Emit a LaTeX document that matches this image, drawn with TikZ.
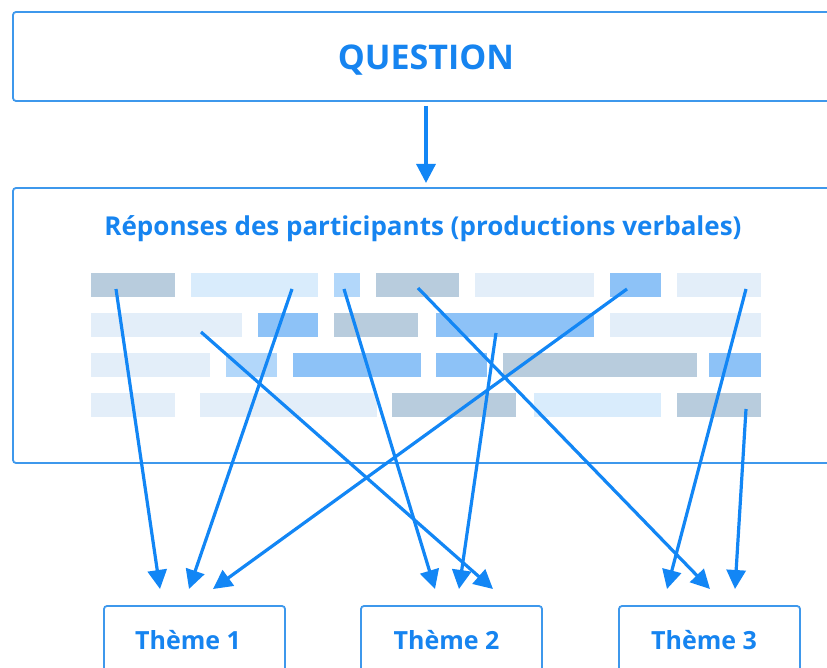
\documentclass[tikz,border=0pt]{standalone}
\usepackage{fontspec}
\setmainfont{Open Sans}
\usetikzlibrary{arrows.meta}
\definecolor{tblue}{RGB}{22,132,240}
\definecolor{lblue}{RGB}{18,134,245}
\definecolor{bblue}{RGB}{62,152,236}
\definecolor{cGray}{RGB}{184,204,221}
\definecolor{cVL}{RGB}{227,238,249}
\definecolor{cL}{RGB}{217,236,252}
\definecolor{cLM}{RGB}{178,215,250}
\definecolor{cM}{RGB}{141,194,247}
\tikzset{
  frame/.style={draw=bblue, line width=1.8pt, rounded corners=3pt, inner sep=0pt, fill=white},
  lbl/.style={text=tblue, font=\bfseries, inner sep=0pt},
  conn/.style={draw=lblue, line width=3.2pt, -{Triangle[length=19pt,width=19pt]}},
}
\newcommand{\mybar}[4]{\fill[#4] (#1,#3) rectangle (#2,#3+24);}
\begin{document}
\begin{tikzpicture}[x=1pt,y=-1pt]
\useasboundingbox (0,0) rectangle (827,668);
\fill[white] (0,0) rectangle (827,668);
\clip (0,0) rectangle (827,668);
% boxes
\node[frame, minimum width=826pt, minimum height=89pt] (q) at (426,56.5) {};
\node[lbl, font=\fontsize{34}{40}\selectfont\bfseries] (qt) at (426,60) {QUESTION};
\node[frame, minimum width=826pt, minimum height=275pt] (r) at (426,325.5) {};
\node[lbl, font=\fontsize{26}{30}\selectfont\bfseries] (rt) at (423,229) {Réponses des participants (productions verbales)};
\node[frame, minimum width=181pt, minimum height=70pt] (t1) at (194.5,641) {};
\node[frame, minimum width=181pt, minimum height=70pt] (t2) at (451.5,641) {};
\node[frame, minimum width=181pt, minimum height=70pt] (t3) at (709.5,641) {};
\node[lbl, font=\fontsize{25}{30}\selectfont\bfseries] (t1t) at (188,640) {Thème 1};
\node[lbl, font=\fontsize{25}{30}\selectfont\bfseries] (t2t) at (446.5,640) {Thème 2};
\node[lbl, font=\fontsize{25}{30}\selectfont\bfseries] (t3t) at (704,640) {Thème 3};
% bars
\mybar{91}{175}{273}{cGray}\mybar{191}{318}{273}{cL}\mybar{334}{360}{273}{cLM}\mybar{376}{459}{273}{cGray}
\mybar{475}{594}{273}{cVL}\mybar{610}{661}{273}{cM}\mybar{677}{761}{273}{cVL}
\mybar{91}{242}{313}{cVL}\mybar{258}{318}{313}{cM}\mybar{334}{418}{313}{cGray}\mybar{436}{594}{313}{cM}\mybar{610}{761}{313}{cVL}
\mybar{91}{210}{353}{cVL}\mybar{226}{277}{353}{cLM}\mybar{293}{421}{353}{cM}\mybar{436}{487}{353}{cM}\mybar{503}{697}{353}{cGray}\mybar{709}{761}{353}{cM}
\mybar{91}{175}{393}{cVL}\mybar{200}{377}{393}{cVL}\mybar{392}{516}{393}{cGray}\mybar{534}{661}{393}{cL}\mybar{677}{761}{393}{cGray}
% coordinates
\coordinate (qs) at (426,106);
\coordinate (qe) at (426,183);
\coordinate (s1) at (116,289);
\coordinate (s2) at (292,289);
\coordinate (s3) at (627,289);
\coordinate (s4) at (201,332);
\coordinate (s5) at (344,289);
\coordinate (s6) at (496,333);
\coordinate (s7) at (418,288);
\coordinate (s8) at (746,289);
\coordinate (s9) at (746,409);
\coordinate (e1) at (160,589);
\coordinate (e2) at (189,589);
\coordinate (e3) at (213,589);
\coordinate (e4) at (493,589);
\coordinate (e5) at (435,589);
\coordinate (e6) at (459,589);
\coordinate (e7) at (710,589);
\coordinate (e8) at (667,589);
\coordinate (e9) at (735,589);
% connectors
\draw[conn] (qs) -- (qe);
\foreach \i in {1,...,9} {\draw[conn] (s\i) -- (e\i);}
\end{tikzpicture}
\end{document}
